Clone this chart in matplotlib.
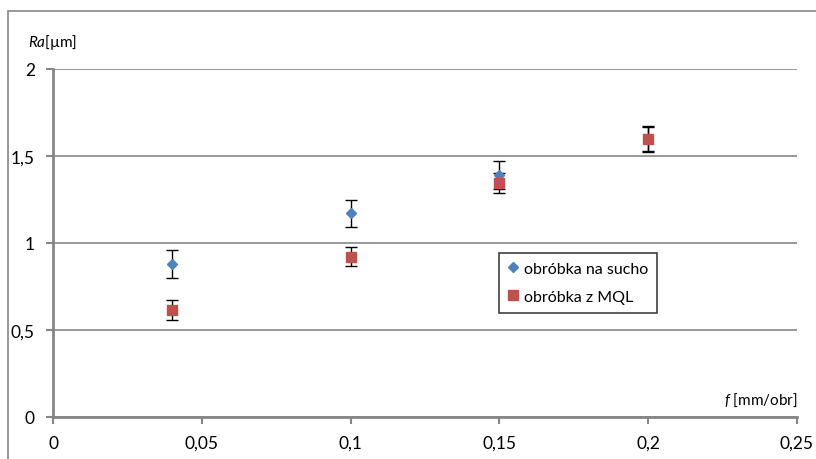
import matplotlib.pyplot as plt
from matplotlib.patches import Rectangle
from matplotlib.lines import Line2D
import numpy as np

plt.rcParams['font.family'] = ['Lato', 'DejaVu Sans']
plt.rcParams['mathtext.fontset'] = 'custom'
plt.rcParams['mathtext.it'] = 'Lato:italic'
plt.rcParams['mathtext.rm'] = 'Lato'

# posuv f [mm/obr]
feed = [0.04, 0.1, 0.15, 0.2]
# obróbka na sucho
ra_dry = [0.88, 1.17, 1.39, 1.60]
err_dry = [0.08, 0.08, 0.08, 0.07]
# obróbka z MQL
ra_mql = [0.615, 0.92, 1.345, 1.595]
err_mql = [0.06, 0.055, 0.055, 0.07]

xticks = [0, 0.05, 0.1, 0.15, 0.2, 0.25]
xlabels = ['0', '0,05', '0,1', '0,15', '0,2', '0,25']
yticks = [0, 0.5, 1, 1.5, 2]
ylabels = ['0', '0,5', '1', '1,5', '2']

blue = '#4F81BD'
red = '#C0504D'
grey = '#868686'
fig = plt.figure(figsize=(8.16, 4.60), dpi=100)
ax = fig.add_axes([53 / 816, 42 / 460, 744 / 816, 348 / 460])

# ramka wykresu
fig.patches.append(Rectangle((8 / 816, -0.1), 2, 1.1 - 12 / 460,
                             transform=fig.transFigure, fill=False,
                             edgecolor=grey, lw=1.2))

ax.errorbar(feed, ra_dry, yerr=err_dry, fmt='D', color=blue, ms=5.5,
            ecolor='black', elinewidth=1, capsize=4, capthick=1, zorder=3)
ax.errorbar(feed, ra_mql, yerr=err_mql, fmt='s', color=red, ms=7.5,
            ecolor='black', elinewidth=1, capsize=4, capthick=1, zorder=3)

ax.set_xlim(0, 0.25)
ax.set_ylim(0, 2)
ax.set_xticks(xticks)
ax.set_xticklabels(xlabels, fontsize=12.5)
ax.set_yticks(yticks)
ax.set_yticklabels(ylabels, fontsize=12.5)
ax.tick_params(axis='both', color=grey, width=1.5, length=5, direction='out')
ax.tick_params(axis='x', pad=8)
ax.tick_params(axis='y', pad=8)

ax.grid(axis='y', color=grey, lw=1.2)
ax.set_axisbelow(True)
for s in ['top', 'right']:
    ax.spines[s].set_visible(False)
for s in ['left', 'bottom']:
    ax.spines[s].set_color(grey)
    ax.spines[s].set_linewidth(2)

fig.text(28 / 816, 1 - 43 / 460, r'$\mathit{Ra}$[µm]', fontsize=11,
         va='center', ha='left')
fig.text(797 / 816, 1 - 400 / 460, r'$\mathit{f}$ [mm/obr]', fontsize=11,
         va='center', ha='right')

handles = [
    Line2D([], [], ls='none', marker='D', color=blue, ms=5.5, label='obróbka na sucho'),
    Line2D([], [], ls='none', marker='s', color=red, ms=7.5, label='obróbka z MQL'),
]
leg = ax.legend(handles=handles, loc='upper left',
                bbox_to_anchor=(499 / 816, 1 - 254 / 460),
                bbox_transform=fig.transFigure, fontsize=11.5, fancybox=False,
                framealpha=1, edgecolor='#404040', handlelength=0.6,
                handletextpad=0.4, borderpad=0.55, labelspacing=0.85,
                borderaxespad=0)
leg.get_frame().set_linewidth(1.2)

plt.savefig('out.png', dpi=100)
